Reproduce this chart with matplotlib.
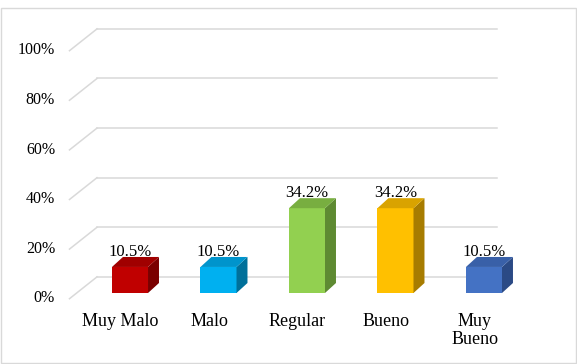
import matplotlib.pyplot as plt
from matplotlib.patches import Polygon, Rectangle

plt.rcParams['font.family'] = ['Liberation Serif', 'DejaVu Serif']

categorias = ["Muy Malo", "Malo", "Regular", "Bueno", "Muy\nBueno"]
valores = [10.5, 10.5, 34.2, 34.2, 10.5]
etiquetas = ["10.5%", "10.5%", "34.2%", "34.2%", "10.5%"]
ticks_y = [0, 20, 40, 60, 80, 100]

# colores: frente, tapa, lado
frente = ["#C00000", "#00B0F0", "#92D050", "#FFC000", "#4472C4"]
tapa = ["#A00000", "#0094CC", "#78AE40", "#D9A300", "#3960A8"]
lado = ["#7A0000", "#00709A", "#5E8A32", "#A77C00", "#2B4A85"]

fig = plt.figure(figsize=(5.77, 3.64), dpi=100)
ax = fig.add_axes([0, 0, 1, 1])
ax.set_xlim(-1.469, 5.051)
ax.set_ylim(-28.63, 118.15)
ax.axis("off")

# borde del grafico
fig.patches.append(Rectangle((0.002, 0.003), 0.996, 0.975, transform=fig.transFigure,
                             fill=False, edgecolor="#d9d9d9", linewidth=1))

# pared del fondo y diagonales
dxw, dyw = 0.311, 8.8
xl, xr = -0.373, 4.147
for t in ticks_y:
    ax.plot([xl, xr], [t + 6.5, t + 6.5], color="#d9d9d9", lw=1.1, zorder=1)
    ax.plot([xl - dxw, xl], [t + 6.5 - dyw, t + 6.5], color="#d9d9d9", lw=1.1, zorder=1)
    ax.text(-0.847, t - 2.2, f"{t}%", ha="right", va="center", fontsize=11.5, color="#000000")

# barras 3D
w = 0.407
dx, dy = 0.124, 4.03
xs = list(range(len(valores)))
ax.bar(xs, valores, width=w, color=frente, zorder=3, linewidth=0)
for x, v, ct, cl in zip(xs, valores, tapa, lado):
    x0, x1 = x - w / 2, x + w / 2
    ax.add_patch(Polygon([(x1, 0), (x1 + dx, dy), (x1 + dx, v + dy), (x1, v)],
                         closed=True, facecolor=cl, edgecolor="none", zorder=3))
    ax.add_patch(Polygon([(x0, v), (x0 + dx, v + dy), (x1 + dx, v + dy), (x1, v)],
                         closed=True, facecolor=ct, edgecolor="none", zorder=3))

for x, v, e in zip(xs, valores, etiquetas):
    ax.text(x, v + 6, e, ha="center", va="center", fontsize=12, color="#000000", zorder=4)

for x, c in zip(xs, categorias):
    ax.text(x - 0.107, -8.0, c, ha="center", va="top", fontsize=13,
            linespacing=1.1, multialignment="center", color="#000000")

fig.savefig("out.png", dpi=100)
